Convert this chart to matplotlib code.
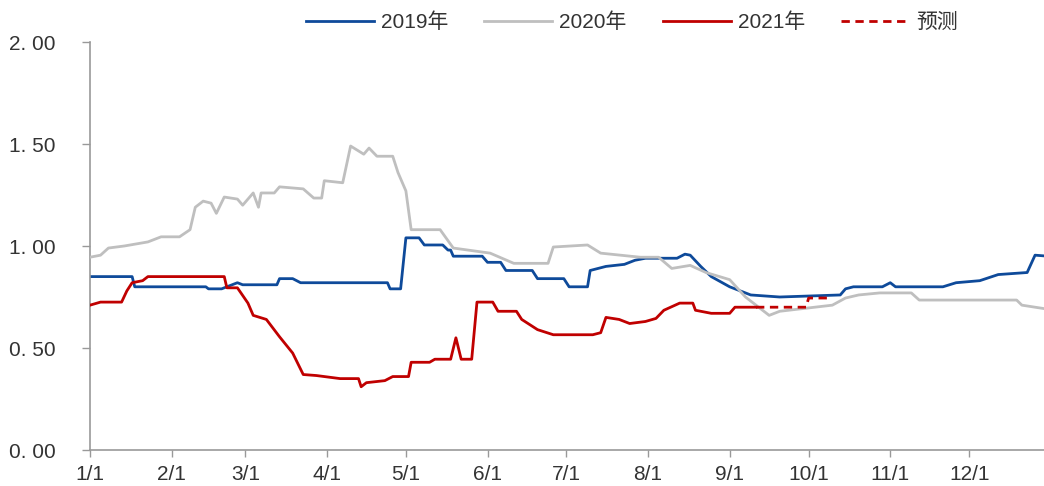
import matplotlib
matplotlib.use("Agg")
import matplotlib.pyplot as plt
import matplotlib.dates as mdates
from matplotlib.lines import Line2D
import pandas as pd

plt.rcParams['font.family'] = ['Liberation Sans', 'Noto Sans CJK SC', 'DejaVu Sans']

YEAR = "2021"

# 2019
d2019 = ["01-01","01-17","01-18","02-14","02-15","02-20","02-24","02-26","02-28","03-13","03-14","03-19","03-22",
         "04-24","04-25","04-29","05-01","05-06","05-08","05-15","05-17","05-18","05-19","05-30","06-01","06-06",
         "06-08","06-18","06-20","06-30","07-02","07-09","07-10","07-16","07-23","07-27","07-31","08-12","08-15",
         "08-17","08-21","08-25","09-01","09-09","09-20","10-13","10-15","10-18","10-29","11-01","11-03","11-21",
         "11-26","12-05","12-12","12-23","12-26","12-31"]
v2019 = [0.85,0.85,0.80,0.80,0.79,0.79,0.81,0.82,0.81,0.81,0.84,0.84,0.82,
         0.82,0.79,0.79,1.04,1.04,1.005,1.005,0.98,0.98,0.95,0.95,0.92,0.92,
         0.88,0.88,0.84,0.84,0.80,0.80,0.88,0.90,0.91,0.93,0.94,0.94,0.96,
         0.955,0.90,0.85,0.80,0.76,0.75,0.76,0.79,0.80,0.80,0.82,0.80,0.80,
         0.82,0.83,0.86,0.87,0.955,0.95]

# 2020
d2020 = ["01-01","01-05","01-08","01-14","01-23","01-28","02-04","02-08","02-10","02-13","02-16","02-18","02-21",
         "02-26","02-28","03-04","03-06","03-07","03-12","03-14","03-23","03-27","03-30","03-31","04-07","04-10",
         "04-15","04-17","04-20","04-26","04-28","05-01","05-03","05-14","05-19","06-02","06-11","06-24","06-26",
         "07-09","07-14","07-29","08-05","08-10","08-17","08-23","09-01","09-07","09-16","09-20","09-30","10-10",
         "10-15","10-20","10-28","11-09","11-12","12-19","12-21","12-31"]
v2020 = [0.945,0.955,0.99,1.00,1.02,1.045,1.045,1.08,1.19,1.22,1.21,1.16,1.24,
         1.23,1.20,1.26,1.19,1.26,1.26,1.29,1.28,1.235,1.235,1.32,1.31,1.49,
         1.45,1.48,1.44,1.44,1.36,1.27,1.08,1.08,0.99,0.965,0.915,0.915,0.995,
         1.005,0.965,0.945,0.945,0.89,0.905,0.87,0.835,0.75,0.66,0.68,0.695,0.71,
         0.745,0.76,0.77,0.77,0.735,0.735,0.71,0.69]

# 2021
d2021 = ["01-01","01-05","01-13","01-15","01-17","01-21","01-23","02-21","02-22","02-26","03-02","03-04","03-09",
         "03-14","03-19","03-23","03-28","04-06","04-13","04-14","04-16","04-23","04-26","05-02","05-03","05-10",
         "05-12","05-18","05-20","05-22","05-26","05-28","06-03","06-05","06-12","06-14","06-20","06-26","07-11",
         "07-14","07-16","07-21","07-25","07-31","08-04","08-07","08-13","08-18","08-19","08-25","09-01","09-03",
         "09-11"]
v2021 = [0.71,0.725,0.725,0.78,0.82,0.83,0.85,0.85,0.795,0.795,0.72,0.66,0.64,
         0.555,0.475,0.37,0.365,0.35,0.35,0.31,0.33,0.34,0.36,0.36,0.43,0.43,
         0.445,0.445,0.55,0.445,0.445,0.725,0.725,0.68,0.68,0.64,0.59,0.565,0.565,
         0.575,0.65,0.64,0.62,0.63,0.645,0.685,0.72,0.72,0.685,0.67,0.67,0.70,
         0.70]

# forecast
dfc = ["09-11","09-30","10-01","10-09"]
vfc = [0.70,0.70,0.745,0.745]

labels = ["2019年", "2020年", "2021年", "预测"]
colors = ["#0E4A9A", "#BFBFBF", "#C00000", "#C00000"]
yticks = [0.0, 0.5, 1.0, 1.5, 2.0]
ytick_labels = ["0. 00", "0. 50", "1. 00", "1. 50", "2. 00"]
xtick_dates = ["01-01","02-01","03-01","04-01","05-01","06-01","07-01","08-01","09-01","10-01","11-01","12-01"]
xtick_labels = ["1/1","2/1","3/1","4/1","5/1","6/1","7/1","8/1","9/1","10/1","11/1","12/1"]


def to_dt(lst):
    return pd.to_datetime([f"{YEAR}-{s}" for s in lst])


W, H = 1044, 486
fig = plt.figure(figsize=(W / 100, H / 100), dpi=100)

ax = fig.add_axes([90 / W, 36 / H, 954 / W, 408 / H])

lw = 2.0
ax.plot(to_dt(d2019), v2019, color=colors[0], lw=lw, zorder=2, solid_joinstyle='round')
ax.plot(to_dt(d2020), v2020, color=colors[1], lw=lw, zorder=3, solid_joinstyle='round')
ax.plot(to_dt(d2021), v2021, color=colors[2], lw=lw, zorder=4, solid_joinstyle='round')
ax.plot(to_dt(dfc), vfc, color=colors[3], lw=lw, ls=(0, (3, 2)), zorder=4)

start = pd.Timestamp(f"{YEAR}-01-01")
ax.set_xlim(mdates.date2num(start), mdates.date2num(start) + 362.4)
ax.set_ylim(0, 2.0)

ax.set_yticks(yticks)
ax.set_yticklabels(ytick_labels)
ax.set_xticks(to_dt(xtick_dates))
ax.set_xticklabels(xtick_labels)

for s in ["top", "right"]:
    ax.spines[s].set_visible(False)
for s in ["left", "bottom"]:
    ax.spines[s].set_color("#999999")
    ax.spines[s].set_linewidth(1.2)

ax.tick_params(axis='y', length=6, width=1.0, color="#999999", labelsize=15, labelcolor="#333333", pad=19)
ax.tick_params(axis='x', length=5, width=1.0, color="#999999", labelsize=15, labelcolor="#333333", pad=6)

handles = [Line2D([], [], color=colors[0], lw=lw),
           Line2D([], [], color=colors[1], lw=lw),
           Line2D([], [], color=colors[2], lw=lw),
           Line2D([], [], color=colors[3], lw=lw, ls=(0, (3, 2)))]
fig.legend(handles, labels, loc='center', bbox_to_anchor=(632 / W, 1 - 22 / H), ncol=4,
           frameon=False, fontsize=15, handlelength=3.27, columnspacing=1.73, handletextpad=0.34,
           labelcolor="#333333")

fig.savefig("out.png", dpi=100)
